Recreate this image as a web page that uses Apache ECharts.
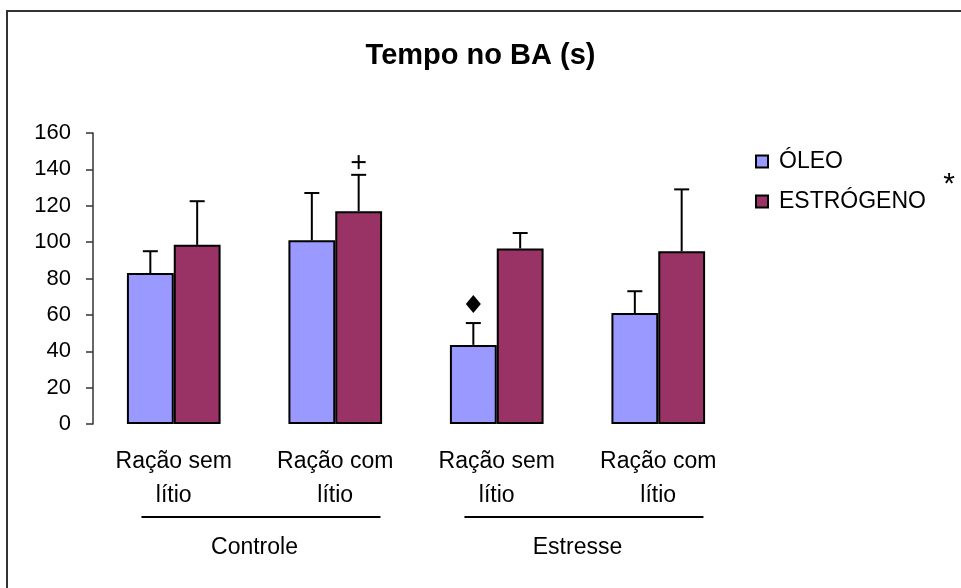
<!DOCTYPE html>
<html><head><meta charset="utf-8">
<script src="https://cdn.jsdelivr.net/npm/echarts@6/dist/echarts.min.js"></script>
<style>html,body{margin:0;padding:0;background:#fff}#c{width:961px;height:588px}</style>
</head><body><div id="c"></div>
<script>
const categories = ['Ração sem\nlítio', 'Ração com\nlítio', 'Ração sem\nlítio', 'Ração com\nlítio'];
const groupNames = ['Controle', 'Estresse'];
const groupStart = [0, 2];
const groupEnd = [1, 3];
const seriesNames = ['ÓLEO', 'ESTRÓGENO'];
const oleoValues = [83, 101, 43.5, 61];
const oleoErrorTop = [95, 127, 55.5, 73];
const estrogenoValues = [98.5, 117, 96.5, 95];
const estrogenoErrorTop = [122.5, 137, 105, 129];
const yMin = 0, yMax = 160, yInterval = 20;
const annotCategory = [1, 2];
const annotSeries = [1, 0];
const annotValue = [144, 66];
const annotKind = ['plus', 'diamond'];

const FONT = "'Liberation Sans', Arial, sans-serif";
const GAP = 0.42;
const chart = echarts.init(document.getElementById('c'), null, {renderer: 'canvas'});

function barOffset(api, sIdx) {
  const band = api.size([1, 0])[0];
  return (sIdx === 0 ? -1 : 1) * band * (1 - GAP) / 4;
}

function errSeries(sIdx, vals, tops) {
  return {
    type: 'custom', z: 5, silent: true,
    data: vals.map((v, i) => [i, v, tops[i]]),
    renderItem: function (params, api) {
      const c = api.value(0);
      const b = api.coord([c, api.value(1)]);
      const t = api.coord([c, api.value(2)]);
      const x = b[0] + barOffset(api, sIdx);
      const st = {stroke: '#000', lineWidth: 2};
      return {type: 'group', children: [
        {type: 'line', shape: {x1: x, y1: b[1], x2: x, y2: t[1]}, style: st},
        {type: 'line', shape: {x1: x - 7.5, y1: t[1], x2: x + 7.5, y2: t[1]}, style: st}
      ]};
    }
  };
}

const annotSeriesDef = {
  type: 'custom', z: 6, silent: true,
  data: annotCategory.map((c, i) => [c, annotValue[i], annotSeries[i], i]),
  renderItem: function (params, api) {
    const p = api.coord([api.value(0), api.value(1)]);
    const x = p[0] + barOffset(api, api.value(2));
    const y = p[1];
    const kind = annotKind[api.value(3)];
    if (kind === 'plus') {
      const st = {stroke: '#000', lineWidth: 2};
      return {type: 'group', children: [
        {type: 'line', shape: {x1: x - 7, y1: y, x2: x + 7, y2: y}, style: st},
        {type: 'line', shape: {x1: x, y1: y - 7, x2: x, y2: y + 7}, style: st}
      ]};
    }
    return {type: 'polygon', shape: {points: [[x, y - 9], [x + 7.5, y], [x, y + 9], [x - 7.5, y]]}, style: {fill: '#000'}};
  }
};

const option = {
  backgroundColor: '#fff',
  animation: false,
  textStyle: {fontFamily: FONT},
  title: {
    text: 'Tempo no BA (s)', left: 'center', top: 36,
    textStyle: {fontFamily: FONT, fontSize: 29, fontWeight: 'bold', color: '#000'}
  },
  legend: {
    data: seriesNames, orient: 'vertical', left: 750, top: 145,
    itemWidth: 12, itemHeight: 12, itemGap: 17, icon: 'rect',
    textStyle: {fontFamily: FONT, fontSize: 23, color: '#000', padding: [0, 0, 0, 6]}
  },
  grid: {left: 93, right: 222, top: 133, bottom: 164, containLabel: false},
  xAxis: {
    type: 'category', data: categories,
    axisLine: {show: false}, axisTick: {show: false},
    axisLabel: {fontFamily: FONT, fontSize: 23, color: '#000', lineHeight: 34, margin: 21, interval: 0}
  },
  yAxis: {
    type: 'value', min: yMin, max: yMax, interval: yInterval,
    axisLine: {show: true, lineStyle: {color: '#333', width: 1.5}},
    axisTick: {show: true, length: 7, lineStyle: {color: '#333', width: 1.5}},
    splitLine: {show: false},
    axisLabel: {fontFamily: FONT, fontSize: 22, color: '#000', margin: 22}
  },
  series: [
    {name: seriesNames[0], type: 'bar', data: oleoValues, barGap: '0%', barCategoryGap: (GAP * 100) + '%',
     itemStyle: {color: '#9999FF', borderColor: '#000', borderWidth: 2}},
    {name: seriesNames[1], type: 'bar', data: estrogenoValues, barGap: '0%', barCategoryGap: (GAP * 100) + '%',
     itemStyle: {color: '#993366', borderColor: '#000', borderWidth: 2}},
    errSeries(0, oleoValues, oleoErrorTop),
    errSeries(1, estrogenoValues, estrogenoErrorTop),
    annotSeriesDef
  ]
};
chart.setOption(option);

// group lines and labels placed through the category axis scale
const graphics = [
  {type: 'rect', shape: {x: 7, y: 11, width: 1000, height: 1000}, style: {fill: 'none', stroke: '#333', lineWidth: 2}, silent: true},
  {type: 'text', x: 949, y: 185, style: {text: '*', fontFamily: FONT, fontSize: 30, fill: '#000', align: 'center', verticalAlign: 'middle'}}
];
const yLine = chart.convertToPixel({yAxisIndex: 0}, 0) + 93;
groupNames.forEach((g, i) => {
  const a = chart.convertToPixel({xAxisIndex: 0}, groupStart[i]);
  const b = chart.convertToPixel({xAxisIndex: 0}, groupEnd[i]);
  const band = b - a;
  graphics.push({type: 'line', shape: {x1: a - band * 0.2, y1: yLine, x2: b + band * 0.28, y2: yLine}, style: {stroke: '#000', lineWidth: 2}, silent: true});
  graphics.push({type: 'text', x: (a + b) / 2, y: yLine + 31, style: {text: g, fontFamily: FONT, fontSize: 23, fill: '#000', align: 'center', verticalAlign: 'middle'}});
});
chart.setOption({graphic: graphics});
</script>
</body></html>
